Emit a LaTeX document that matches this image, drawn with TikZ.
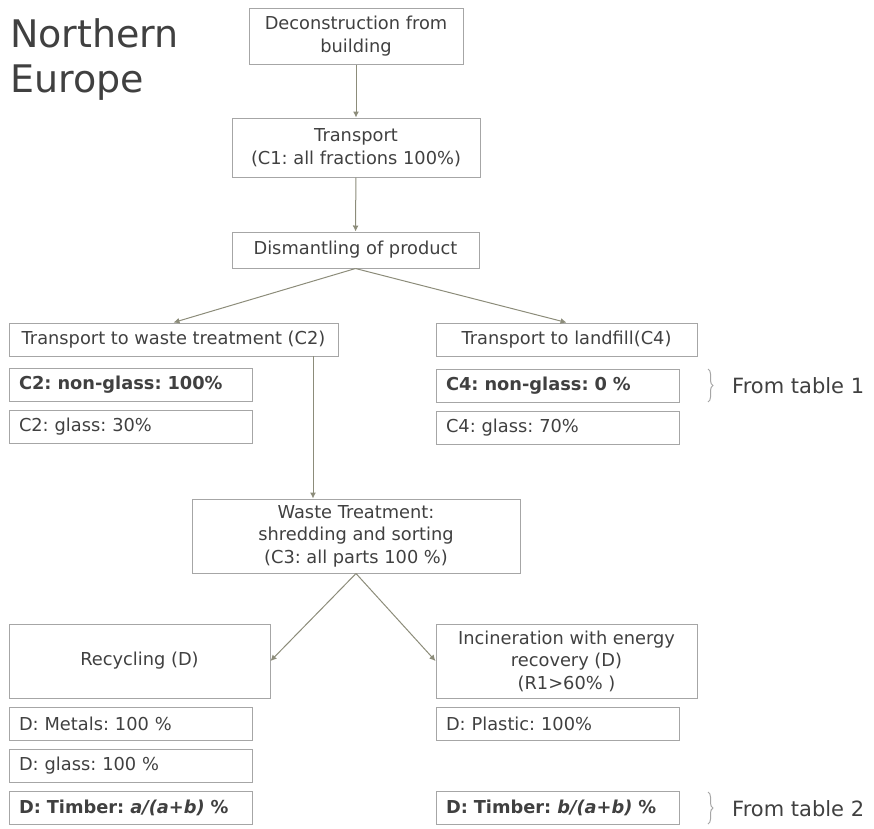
\documentclass[tikz,border=0pt]{standalone}
\usepackage{fontspec}
\setmainfont{DejaVu Sans}
\usetikzlibrary{arrows.meta,decorations.pathreplacing}
\frenchspacing

\definecolor{boxline}{HTML}{A6A6A6}
\definecolor{arrowline}{HTML}{8C8C7A}
\definecolor{txt}{HTML}{404040}

\begin{document}
\begin{tikzpicture}[x = 1pt, y = -1pt,
  box/.style = {draw = boxline, line width = 1pt, text = txt, font = \fontsize{17.8}{22.5}\selectfont, align = center, inner sep = 0pt},
  leftbox/.style = {box, align = left, text width = 223pt, inner xsep = 10pt, minimum height = 33pt},
  link/.style = {draw = arrowline, line width = 1pt, -{Latex[length = 6pt, width = 6pt]}},
  tblbrace/.style = {draw = boxline, line width = 1pt, decorate, decoration = {brace, amplitude = 5pt}},
  note/.style = {text = txt, font = \fontsize{21}{25}\selectfont, anchor = west, inner sep = 0pt}]

\useasboundingbox (0,0) rectangle (874,828);

\node (title) [anchor = north west, align = left, inner sep = 0pt, text = txt, font = \fontsize{38}{45}\selectfont] at (10,18) {Northern\\Europe};

\node (v1) [box, minimum width = 214pt, minimum height = 56pt] at (356,36) {Deconstruction from\\building};
\node (v2) [box, minimum width = 248pt, minimum height = 59pt] at (356,147.5) {Transport\\(C1: all fractions 100\%)};
\node (v3) [box, minimum width = 247pt, minimum height = 36pt] at (355.5,250) {Dismantling of product};

\node (v4) [box, minimum width = 329pt, minimum height = 33pt] at (173.5,339.5) {Transport to waste treatment (C2)};
\node (v6) [leftbox] at (130.5,384.5) {\textbf{C2: non-glass: 100\%}};
\node (v7) [leftbox] at (130.5,426.5) {C2: glass: 30\%};

\node (v5) [box, minimum width = 261pt, minimum height = 33pt] at (566.5,339.5) {Transport to landfill(C4)};
\node (v8) [leftbox] at (557.5,385.5) {\textbf{C4: non-glass: 0 \%}};
\node (v9) [leftbox] at (557.5,427.5) {C4: glass: 70\%};

\node (v10) [box, minimum width = 328pt, minimum height = 74pt] at (356,536) {Waste Treatment:\\shredding and sorting\\(C3: all parts 100 \%)};

\node (v11) [box, minimum width = 261pt, minimum height = 74pt] at (139.5,661) {Recycling (D)};
\node (v13) [leftbox] at (130.5,723.5) {D: Metals: 100 \%};
\node (v14) [leftbox] at (130.5,766) {D: glass: 100 \%};
\node (v15) [leftbox] at (130.5,808) {\textbf{D: Timber: \textit{a/(a+b)} \%}};

\node (v12) [box, minimum width = 261pt, minimum height = 74pt] at (566.5,661) {Incineration with energy\\recovery (D)\\(R1>60\% )};
\node (v16) [leftbox] at (557.5,723.5) {D: Plastic: 100\%};
\node (v17) [leftbox] at (557.5,808) {\textbf{D: Timber: \textit{b/(a+b)} \%}};

\node (t1) [note] at (732,386) {From table 1};
\node (t2) [note] at (732,809) {From table 2};

\coordinate (c1) at (313,356);

\draw [link] (v1) -- (v2);
\draw [link] (v2) -- (v3);
\draw [link] (v3.south) -- (v4.north);
\draw [link] (v3.south) -- (v5.north);
\draw [link] (c1) -- (c1 |- v10.north);
\draw [link] (v10.south) -- (v11.east);
\draw [link] (v10.south) -- (v12.west);

\draw [tblbrace] (708,369) -- (708,402);
\draw [tblbrace] (708,792) -- (708,824);

\end{tikzpicture}
\end{document}
